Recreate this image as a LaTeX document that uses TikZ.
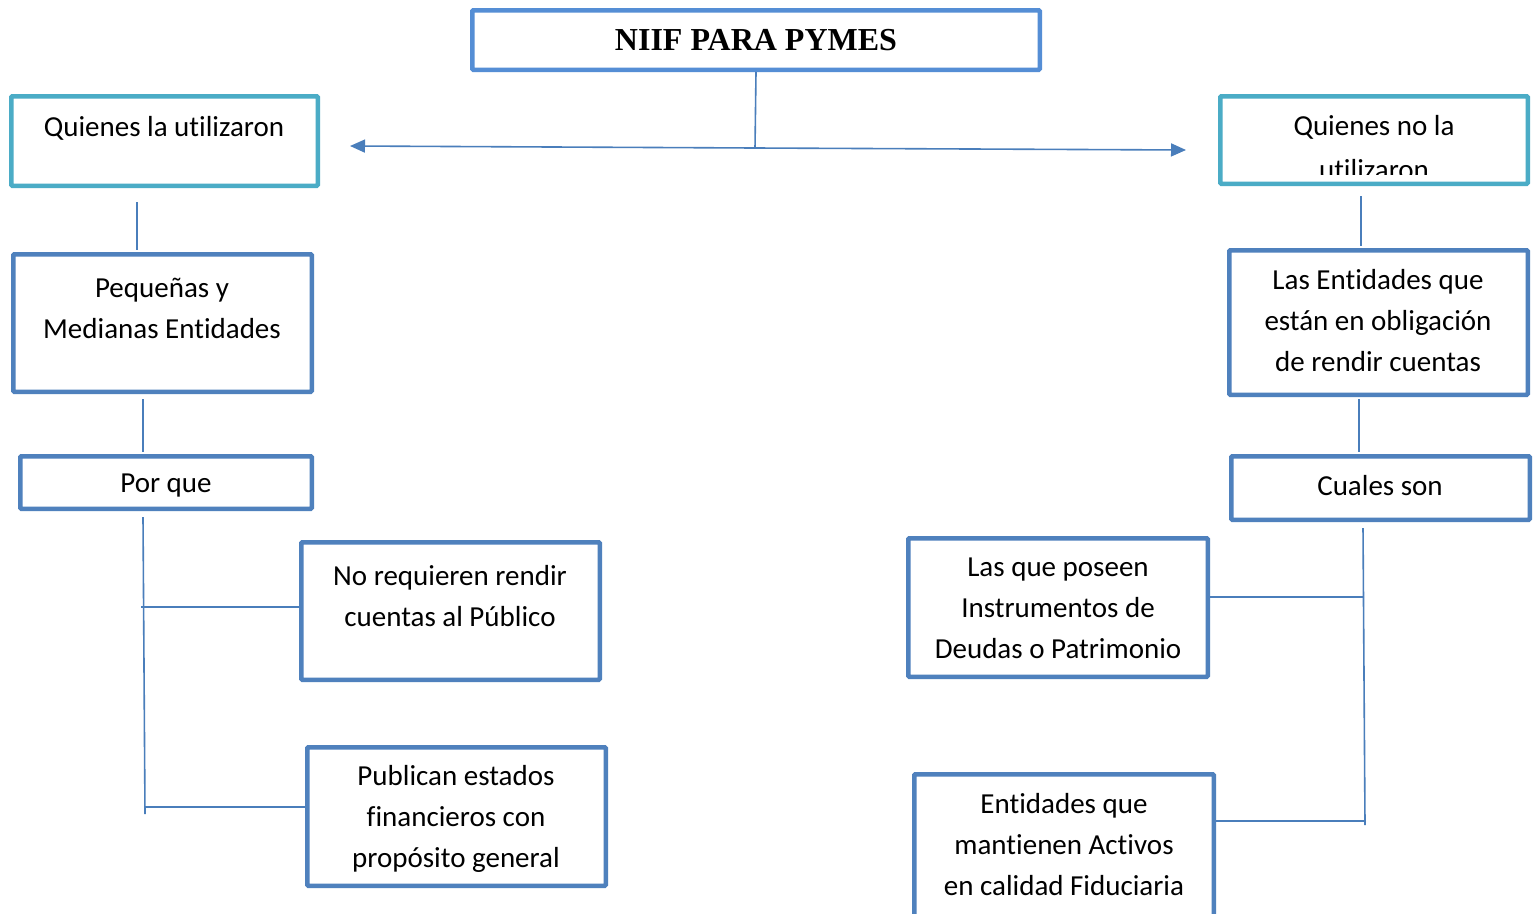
\documentclass[tikz,border=0pt]{standalone}
\usepackage{fontspec}
\setmainfont[Ligatures=NoCommon,RawFeature={-liga;-dlig}]{Carlito}
\newfontfamily\titlefont{Liberation Serif}
\usetikzlibrary{arrows.meta}
\definecolor{boxblue}{RGB}{79,129,189}
\definecolor{titleblue}{RGB}{85,142,213}
\definecolor{boxteal}{RGB}{75,172,198}
\definecolor{lineblue}{RGB}{74,126,187}
\tikzset{
  x=1pt, y=-1pt,
  box/.style={draw=boxblue, line width=4.5pt, rounded corners=1pt, inner sep=0pt, fill=white},
  tealbox/.style={box, draw=boxteal},
  titlebox/.style={box, draw=titleblue},
  txt/.style={inner sep=0pt, align=center, font=\fontsize{29}{41}\selectfont, text=black},
  conn/.style={draw=lineblue, line width=1.6pt},
  arr/.style={conn, -{Triangle[length=15pt,width=13pt]}}
}
\newcommand{\bx}[6]{% style, name, x1, y1, x2, y2
  \node[#1, minimum width={#5-#3-4.5}, minimum height={#6-#4-4.5}] (#2) at ({(#3+#5)/2},{(#4+#6)/2}) {};}
\begin{document}
\begin{tikzpicture}
\clip (0,0) rectangle (1538,913);
\fill[white] (0,0) rectangle (1538,913);

% boxes
\bx{titlebox}{title}{470}{8}{1042}{72}
\bx{tealbox}{qu}{9}{94}{320}{188}
\bx{tealbox}{qn}{1218}{94}{1530}{186}
\bx{box}{pm}{11}{252}{314}{394}
\bx{box}{pq}{18}{454}{314}{511}
\bx{box}{nr}{299}{540}{602}{682}
\bx{box}{pe}{305}{745}{608}{888}
\bx{box}{le}{1227}{248}{1530}{397}
\bx{box}{cs}{1229}{454}{1532}{522}
\bx{box}{lp}{906}{536}{1210}{679}
\bx{box}{ea}{912}{772}{1216}{940}

% texts
\node[inner sep=0pt, font=\titlefont\bfseries\fontsize{32}{38}\selectfont] (ttitle) at (756,40) {NIIF PARA PYMES};
\node[txt] (tqu) at (164,128) {Quienes la utilizaron};
\begin{scope}
\clip (1222,98) rectangle (1526,174.5);
\node[txt] (tqn) at (1374,148) {Quienes no la\\[3pt]utilizaron};
\end{scope}
\node[txt] (tpm) at (162,308) {Pequeñas y\\Medianas Entidades};
\node[txt] (tpq) at (166,486) {Por que};
\node[txt] (tnr) at (450,596) {No requieren rendir\\cuentas al Público};
\node[txt] (tpe) at (456,819) {Publican estados\\financieros con\\propósito general};
\node[txt] (tle) at (1378,320.5) {Las Entidades que\\están en obligación\\de rendir cuentas};
\node[txt] (tcs) at (1380,486) {Cuales son};
\node[txt] (tlp) at (1058,608.5) {Las que poseen\\Instrumentos de\\Deudas o Patrimonio};
\node[txt] (tea) at (1064,845) {Entidades que\\mantienen Activos\\en calidad Fiduciaria};

% connectors
\coordinate (aL) at (350,146);
\coordinate (aR) at (1186,150);
\coordinate (jn) at (755,148);
\draw[conn] (title.south) -- (jn);
\draw[arr] (jn) -- (aL);
\draw[arr] (jn) -- (aR);

\coordinate (l1a) at (137,202); \coordinate (l1b) at (137,250);
\draw[conn] (l1a) -- (l1b);
\coordinate (l2a) at (143,399); \coordinate (l2b) at (143,452);
\draw[conn] (l2a) -- (l2b);
\coordinate (lvT) at (143,517); \coordinate (lvB) at (145,814);
\draw[conn] (lvT) -- (lvB);
\coordinate (lh1) at (141,607);
\draw[conn] (lh1) -- (lh1 -| nr.west);
\coordinate (lh2) at (144,807);
\draw[conn] (lh2) -- (lh2 -| pe.west);

\coordinate (r1a) at (1361,196); \coordinate (r1b) at (1361,246);
\draw[conn] (r1a) -- (r1b);
\coordinate (r2a) at (1359,399); \coordinate (r2b) at (1359,452);
\draw[conn] (r2a) -- (r2b);
\coordinate (rvT) at (1363,528); \coordinate (rvB) at (1365,825);
\draw[conn] (rvT) -- (rvB);
\coordinate (rh1) at (1364,597);
\draw[conn] (rh1) -- (rh1 -| lp.east);
\coordinate (rh2) at (1366,821);
\draw[conn] (rh2) -- (rh2 -| ea.east);
\end{tikzpicture}
\end{document}
